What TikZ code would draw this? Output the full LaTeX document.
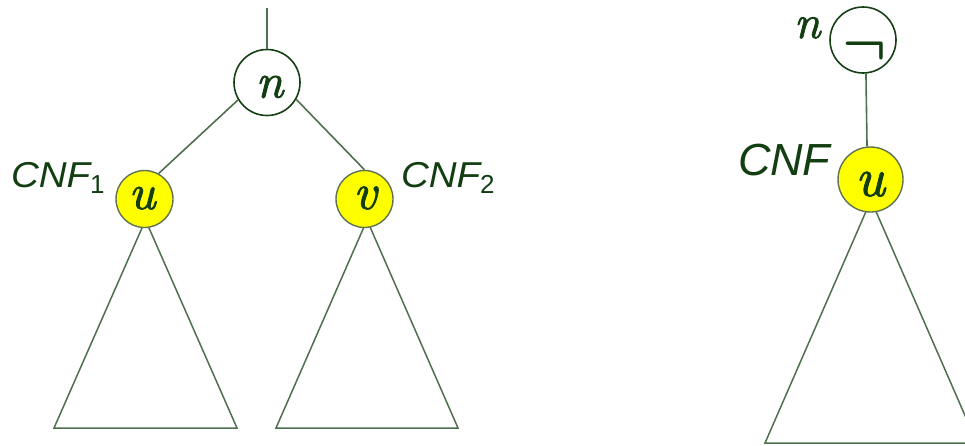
\RequirePackage{fix-cm}
\documentclass[tikz,border=0pt]{standalone}
\usepackage{fontspec}
\setsansfont{Liberation Sans}
\newfontfamily\letterfont[FakeBold=1.6]{lmroman10-italic.otf}
\definecolor{txtgreen}{RGB}{18,62,18}
\definecolor{linegreen}{RGB}{78,112,78}
\definecolor{ringgreen}{RGB}{20,64,20}
\definecolor{yelring}{RGB}{95,115,80}
\definecolor{yel}{RGB}{255,255,0}
\newcommand{\fs}[1]{\fontsize{#1}{#1}\selectfont}
\begin{document}
\begin{tikzpicture}[x=1pt,y=-1pt,
  opencirc/.style={circle,draw=ringgreen,line width=1.6pt,fill=white,inner sep=0pt,minimum size=66pt},
  yelcirc/.style={circle,draw=yelring,line width=1.4pt,fill=yel,inner sep=0pt,minimum size=57pt},
  edge/.style={draw=linegreen,line width=1.6pt},
  tri/.style={draw=linegreen,line width=1.5pt,line join=miter},
  txt/.style={text=txtgreen,inner sep=0pt,outer sep=0pt},
  letter/.style={txt,anchor=base},
  cnf/.style={txt,anchor=base west,font=\sffamily}]
\useasboundingbox (0,0) rectangle (965,445);
\clip (0,0) rectangle (965,445);
% subtrees
\draw[tri] (145.5,220) -- (54,428) -- (237,428) -- cycle;
\draw[tri] (367,220) -- (276,428) -- (458,428) -- cycle;
\draw[tri] (871,200) -- (765,443) -- (977,443) -- cycle;
% nodes
\coordinate (top) at (267,8);
\node[opencirc] (n) at (267,82.5) {};
\node[yelcirc] (u) at (144.5,199) {};
\node[yelcirc] (v) at (364.5,199) {};
\node[opencirc] (n2) at (863,40) {};
\node[yelcirc,minimum size=65pt] (u2) at (870.5,179.5) {};
% connectors
\draw[edge] (top) -- (n.north);
\draw[edge] (n.211) -- (u.61);
\draw[edge] (n.330) -- (v.90);
\draw[edge] (n2.275) -- (u2.96);
% letters in circles
\node[letter,font=\letterfont\fs{49}] (nt) at (269.5,97.5) {n};
\node[letter,font=\letterfont\fs{50}] (ut) at (142,209) {u};
\node[letter,font=\letterfont\fs{51}] (vt) at (365,209) {v};
\node[letter,font=\letterfont\fs{55}] (u2t) at (870,196) {u};
\node[txt,anchor=base,font=\fs{58}\boldmath] (negt) at (865,63) {$\neg$};
% labels
\node[cnf] (c1) at (11,187) {\scalebox{1.07}[1]{\fs{36}\itshape CNF}\raisebox{-6pt}{\fs{26}1}};
\node[cnf] (c2) at (401,187) {\scalebox{1.07}[1]{\fs{36}\itshape CNF}\raisebox{-6pt}{\fs{26}2}};
\node[cnf] (c3) at (738,175) {{\fs{45}\itshape CNF}};
\node[txt,anchor=base west,font=\letterfont\fs{47}] (n2l) at (794,38) {n};
\end{tikzpicture}
\end{document}
